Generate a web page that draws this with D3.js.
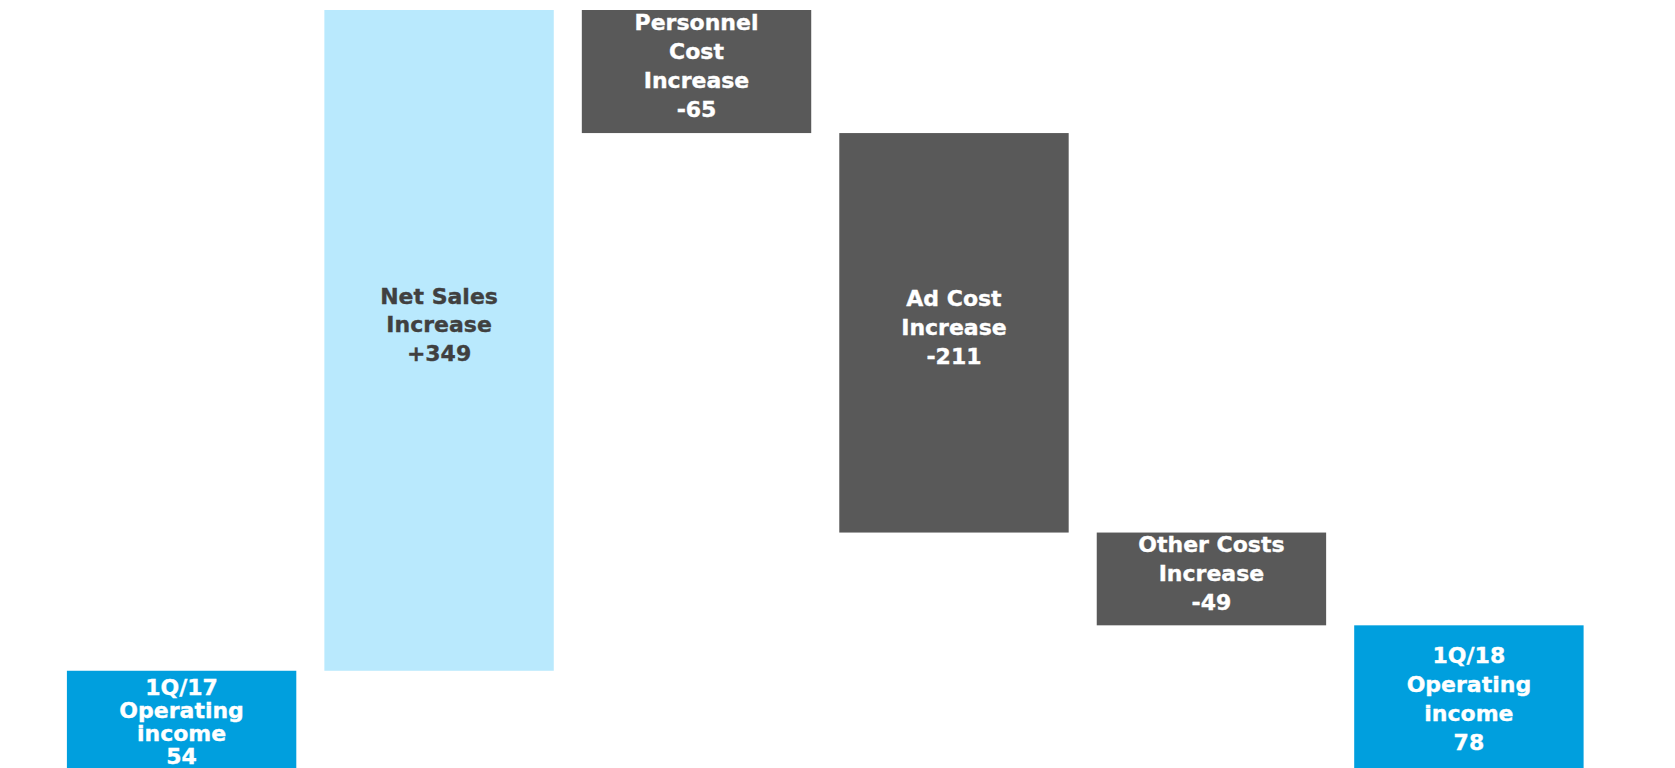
<!DOCTYPE html>
<html>
<head>
<meta charset="utf-8">
<script src="https://cdn.jsdelivr.net/npm/d3@7"></script>
<style>
  html, body { margin: 0; padding: 0; background: #ffffff; overflow: hidden; }
  svg { display: block; }
</style>
</head>
<body>
<svg id="chart" width="1675" height="768"></svg>
<script>
// ---- data ----
const categories = ["1Q/17 Operating income", "Net Sales Increase", "Personnel Cost Increase",
                    "Ad Cost Increase", "Other Costs Increase", "1Q/18 Operating income"];
const labelLines = [
  ["1Q/17", "Operating", "income"],
  ["Net Sales", "Increase"],
  ["Personnel", "Cost", "Increase"],
  ["Ad Cost", "Increase"],
  ["Other Costs", "Increase"],
  ["1Q/18", "Operating", "income"]
];
const values = [54, 349, -65, -211, -49, 78];
const kinds = ["total", "increase", "decrease", "decrease", "decrease", "total"];

// ---- layout ----
const W = 1675, H = 768;
const svg = d3.select("#chart");

// build waterfall segments
let running = 0;
const bars = values.map((v, i) => {
  let start, end;
  if (kinds[i] === "total") { start = 0; end = v; running = v; }
  else { start = running; end = running + v; running = end; }
  return { i, v, kind: kinds[i], lo: Math.min(start, end), hi: Math.max(start, end) };
});
const maxVal = d3.max(bars, d => d.hi);

const x = d3.scaleBand()
  .domain(d3.range(categories.length))
  .range([53, 1597.5])
  .paddingInner(0.109)
  .paddingOuter(0.054);

const y = d3.scaleLinear()
  .domain([0, maxVal])
  .range([773, 10]);

const fill = { total: "#009FDE", increase: "#B9E9FD", decrease: "#595959" };
const textFill = { total: "#FFFFFF", increase: "#404040", decrease: "#FFFFFF" };

svg.selectAll("rect.bar")
  .data(bars)
  .join("rect")
  .attr("class", "bar")
  .attr("x", d => x(d.i))
  .attr("width", x.bandwidth())
  .attr("y", d => y(d.hi))
  .attr("height", d => y(d.lo) - y(d.hi))
  .attr("fill", d => fill[d.kind]);

const fmt = (v, kind) => kind === "increase" ? "+" + v : String(v);
const fs = 22;

bars.forEach(d => {
  const lines = labelLines[d.i].concat([fmt(d.v, d.kind)]);
  const n = lines.length;
  const top = y(d.hi), bot = y(d.lo);
  const visBot = Math.min(bot, H);
  const visH = visBot - top;
  const lh = Math.min(28.8, visH / (n + 0.2));
  const cy = d.kind === "total"
    ? (top + visBot) / 2 + 2
    : (top + bot) / 2 + (d.kind === "increase" ? -16 : -6);
  const cx = x(d.i) + x.bandwidth() / 2;
  const t = svg.append("text")
    .attr("text-anchor", "middle")
    .attr("font-family", "'DejaVu Sans', Verdana, sans-serif")
    .attr("font-weight", "bold")
    .attr("font-size", fs)
    .attr("fill", textFill[d.kind])
    .attr("stroke", textFill[d.kind])
    .attr("stroke-width", 0.35);
  lines.forEach((s, k) => {
    t.append("tspan")
      .attr("x", cx)
      .attr("y", cy + (k - (n - 1) / 2) * lh + 0.36 * fs)
      .text(s);
  });
});
</script>
</body>
</html>
